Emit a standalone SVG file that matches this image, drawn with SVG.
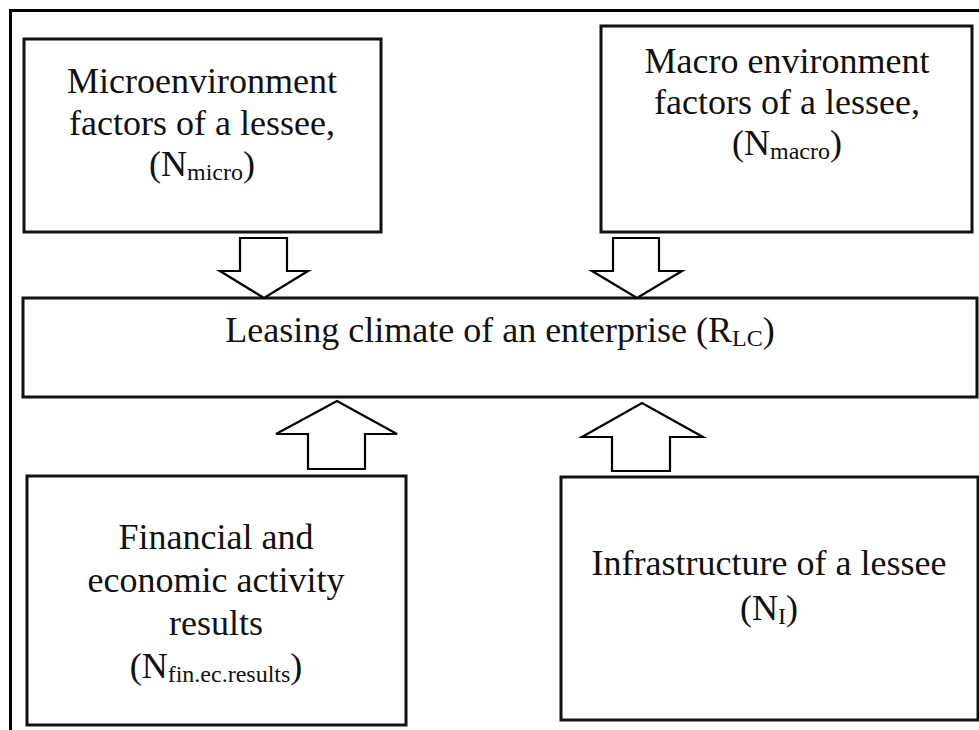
<svg xmlns="http://www.w3.org/2000/svg" width="979" height="730" viewBox="0 0 979 730">
<style>
.frame{fill:none;stroke:#000;stroke-width:3}
.box{fill:#fff;stroke:#111;stroke-width:3}
.arr{fill:#fff;stroke:#000;stroke-width:2.2;stroke-linejoin:miter}
text{font-family:"Liberation Serif","Times New Roman",serif;font-size:36px;fill:#111;text-anchor:middle}
.sub{font-size:24px}
</style>
<rect width="979" height="730" fill="#fff"/>
<path class="frame" d="M10.5 730 V10.5 H979"/>
<g id="micro">
<rect class="box" x="24" y="39" width="357" height="193"/>
<text x="202" y="93">Microenvironment</text>
<text x="202" y="135">factors of a lessee,</text>
<text x="202" y="176">(N<tspan class="sub" dy="4">micro</tspan><tspan dy="-4">)</tspan></text>
</g>
<g id="macro">
<rect class="box" x="601" y="26" width="371" height="206"/>
<text x="787" y="73">Macro environment</text>
<text x="787" y="114">factors of a lessee,</text>
<text x="787" y="155">(N<tspan class="sub" dy="4">macro</tspan><tspan dy="-4">)</tspan></text>
</g>
<g id="climate">
<rect class="box" x="23" y="298" width="954" height="99" stroke-width="2.5"/>
<text x="500" y="342">Leasing climate of an enterprise (R<tspan class="sub" dy="4">LC</tspan><tspan dy="-4">)</tspan></text>
</g>
<g id="fin">
<rect class="box" x="27" y="476" width="379" height="249"/>
<text x="216" y="549">Financial and</text>
<text x="216" y="592">economic activity</text>
<text x="216" y="635">results</text>
<text x="216" y="678">(N<tspan class="sub" dy="4">fin.ec.results</tspan><tspan dy="-4">)</tspan></text>
</g>
<g id="infra">
<rect class="box" x="561" y="477" width="417" height="243"/>
<text x="769" y="575">Infrastructure of a lessee</text>
<text x="769" y="620">(N<tspan class="sub" dy="4">I</tspan><tspan dy="-4">)</tspan></text>
</g>
<g id="connectors">
<polygon class="arr" points="240,238 287,238 287,271 308,271 264,298 220,271 240,271"/>
<polygon class="arr" points="613,238 659,238 659,271 682,271 637,298 592,271 613,271"/>
<polygon class="arr" points="308,469 365,469 365,434 397,434 337,401 276,434 308,434"/>
<polygon class="arr" points="612,471 670,471 670,437 703,437 642,403 582,437 612,437"/>
</g>
</svg>
